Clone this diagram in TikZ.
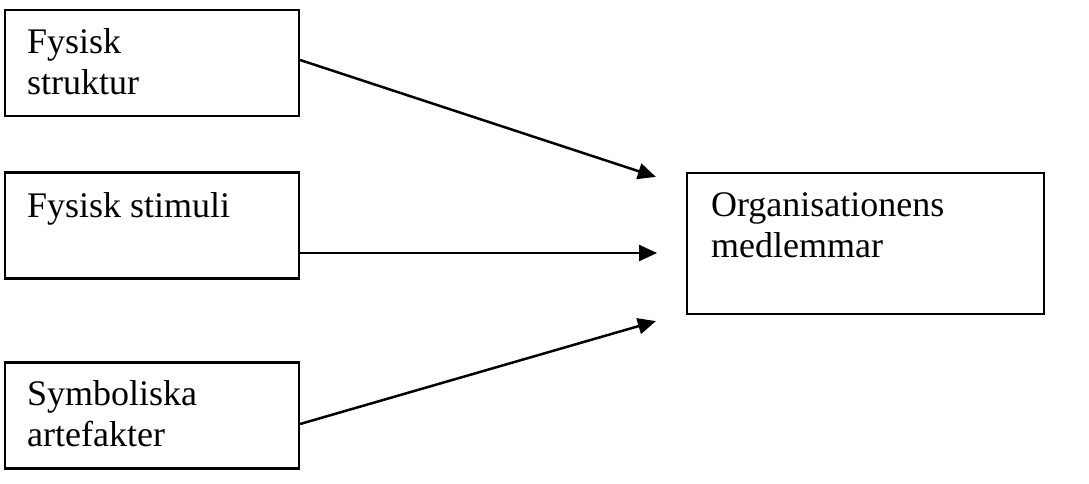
\documentclass[tikz,border=0pt]{standalone}
\usepackage{fontspec}
\setmainfont{Liberation Serif}
\usetikzlibrary{arrows.meta,positioning,calc}
\tikzset{
  box/.style={rectangle, draw, line width=2.2pt, inner sep=0pt,
              minimum width=294pt, minimum height=106pt},
  bigbox/.style={box, minimum width=357pt, minimum height=141pt},
  boxtext/.style={anchor=base west, inner sep=0pt, align=left,
                  font=\fontsize{36}{41}\selectfont},
  flow/.style={-{Triangle[length=18pt,width=16pt]}, line width=2.5pt},
}

\begin{document}
\begin{tikzpicture}[x=1pt, y=-1pt]
  \useasboundingbox (0,0) rectangle (1089,484);
  \node[box] (struktur) at (152,63) {};
  \node[box] (stimuli) at (152,225.5) {};
  \node[box] (artefakt) at (152,415.5) {};
  \node[bigbox] (org) at (865.5,243.5) {};
  % base anchor sits on the last line
  \node[boxtext] (tstruktur) at ([xshift=23pt,yshift=-86pt]struktur.north west) {Fysisk\\struktur};
  \node[boxtext] (tstimuli) at ([xshift=23pt,yshift=-46pt]stimuli.north west) {Fysisk stimuli};
  \node[boxtext] (tartefakt) at ([xshift=23pt,yshift=-85pt]artefakt.north west) {Symboliska\\artefakter};
  \node[boxtext] (torg) at ([xshift=25pt,yshift=-86pt]org.north west) {Organisationens\\medlemmar};
  % arrow tips end short of the target box
  \coordinate (in1) at ([xshift=-30pt,yshift=-5pt]org.north west);
  \coordinate (in2) at (657,253);
  \coordinate (in3) at ([xshift=-30pt,yshift=-6pt]org.south west);
  \draw[flow] ([yshift=3pt]struktur.east) -- (in1);
  \draw[flow] ([yshift=-27.5pt]stimuli.east) -- (in2);
  \draw[flow] ([yshift=-8.5pt]artefakt.east) -- (in3);
\end{tikzpicture}
\end{document}
